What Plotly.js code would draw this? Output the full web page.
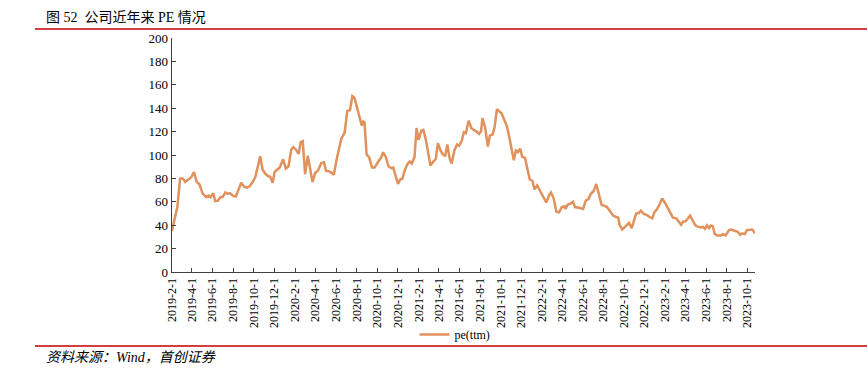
<!DOCTYPE html>
<html>
<head>
<meta charset="utf-8">
<script src="https://cdn.plot.ly/plotly-3.0.1.min.js"></script>
<style>html,body{margin:0;padding:0;background:#fff;}#chart{width:867px;height:375px;}</style>
</head>
<body>
<div id="chart"></div>
<script>
var seriesName = "pe(ttm)";
var dates = [
"2019-02-01","2019-02-17","2019-02-25","2019-03-05","2019-03-12","2019-03-20","2019-03-30","2019-04-07","2019-04-15","2019-04-23",
"2019-05-03","2019-05-13","2019-05-20","2019-05-26","2019-06-03","2019-06-09","2019-06-17","2019-06-25","2019-07-01","2019-07-09",
"2019-07-15","2019-07-23","2019-08-01","2019-08-09","2019-08-17","2019-08-25","2019-09-02","2019-09-10","2019-09-18","2019-09-28",
"2019-10-06","2019-10-13","2019-10-20","2019-10-27","2019-11-04","2019-11-12","2019-11-19","2019-11-26","2019-12-02","2019-12-10",
"2019-12-17","2019-12-27","2020-01-04","2020-01-12","2020-01-20","2020-01-26","2020-02-03","2020-02-11","2020-02-17","2020-02-23",
"2020-03-01","2020-03-09","2020-03-17","2020-03-23","2020-03-31","2020-04-08","2020-04-18","2020-04-26","2020-05-02","2020-05-11",
"2020-05-19","2020-05-25","2020-06-02","2020-06-10","2020-06-16","2020-06-26","2020-07-04","2020-07-12","2020-07-19","2020-07-25",
"2020-08-02","2020-08-10","2020-08-16","2020-08-20","2020-08-24","2020-08-30","2020-09-07","2020-09-15","2020-09-23","2020-09-30",
"2020-10-08","2020-10-12","2020-10-18","2020-10-26","2020-11-03","2020-11-11","2020-11-17","2020-11-23","2020-12-01","2020-12-08",
"2020-12-14","2020-12-22","2020-12-30","2021-01-05","2021-01-11","2021-01-19","2021-01-25","2021-01-31","2021-02-08","2021-02-14",
"2021-02-21","2021-03-01","2021-03-07","2021-03-15","2021-03-23","2021-03-29","2021-04-06","2021-04-14","2021-04-20","2021-04-26",
"2021-05-03","2021-05-09","2021-05-17","2021-05-25","2021-05-31","2021-06-08","2021-06-14","2021-06-20","2021-06-28","2021-07-02",
"2021-07-06","2021-07-13","2021-07-21","2021-07-29","2021-08-04","2021-08-08","2021-08-16","2021-08-24","2021-08-30","2021-09-07",
"2021-09-13","2021-09-20","2021-09-28","2021-10-04","2021-10-12","2021-10-20","2021-10-28","2021-11-03","2021-11-09","2021-11-15",
"2021-11-21","2021-11-28","2021-12-04","2021-12-12","2021-12-20","2021-12-26","2022-01-03","2022-01-09","2022-01-17","2022-01-25",
"2022-02-01","2022-02-13","2022-02-21","2022-02-27","2022-03-07","2022-03-15","2022-03-23","2022-03-31","2022-04-08","2022-04-11",
"2022-04-17","2022-04-25","2022-05-03","2022-05-09","2022-05-21","2022-06-02","2022-06-10","2022-06-18","2022-06-25","2022-07-03",
"2022-07-11","2022-07-19","2022-07-27","2022-08-04","2022-08-12","2022-08-22","2022-08-30","2022-09-08","2022-09-14","2022-09-18",
"2022-09-26","2022-10-04","2022-10-16","2022-10-24","2022-10-30","2022-11-06","2022-11-14","2022-11-20","2022-11-28","2022-12-08",
"2022-12-16","2022-12-24","2022-12-30","2023-01-07","2023-01-14","2023-01-22","2023-01-30","2023-02-07","2023-02-15","2023-02-23",
"2023-03-05","2023-03-13","2023-03-19","2023-03-25","2023-04-01","2023-04-09","2023-04-15","2023-04-23","2023-05-01","2023-05-09",
"2023-05-17","2023-05-23","2023-05-29","2023-06-04","2023-06-10","2023-06-15","2023-06-21","2023-06-27","2023-07-05","2023-07-15",
"2023-07-21","2023-07-29","2023-08-08","2023-08-16","2023-08-23","2023-09-02","2023-09-10","2023-09-16","2023-09-24","2023-09-30",
"2023-10-08","2023-10-16","2023-10-24"
];
var peValues = [
35,56,80,80,77,79,81,85.3,77,75,
67,64,65.4,64,67.3,60.6,61,64,64,68,
67,67.3,65,64.5,70.7,76.3,73,72,73,77,
81.4,91.3,98.9,87.6,84,82,81.4,76.3,85.6,87.6,
89.3,96.3,88.5,90.4,104.5,106.8,104.5,101,111,111.8,
83.7,99.4,87.6,77,84.8,86.5,93.2,93.8,86.5,86,
84.8,83.1,95.5,106.8,113.8,119.2,137.7,138.3,150.4,149,
141.1,132.7,125.1,128.7,127.9,100.6,97.7,89.3,89.3,92.7,
96,97.7,102.3,98.3,90.4,88.7,89.3,82.8,75.2,79.2,
79.7,87.6,92.7,94.4,92.7,98.3,123.1,113,120.8,121.4,
113.8,101.1,91,94.1,96.6,110.1,103.9,100,99.4,109,
97.2,92.7,103.9,109,107.9,112.4,119.4,118.6,129.3,126.5,
123.1,121.4,120.3,118,120.3,131.5,123.7,107.3,116.6,117.5,
123.7,139.2,136.9,135.5,129.9,124.2,113,103.9,95.5,103.9,
102.5,105.4,98.3,97.7,87.6,79.2,78,70.7,74.1,69.6,
65.6,59.4,65.6,67.9,62.8,51.5,51,55.5,56.1,53.8,
57.5,58.3,60,55.5,54.9,53.8,61.1,62.3,66.8,69,
75.2,67.3,57.2,56.6,55.5,51.5,48.2,47,46.5,40.3,
36.3,38.6,42,37.5,43.4,49.9,50.4,52.4,49.9,48.7,
47,45.9,51,53.8,57.5,62.8,59.4,55.5,50.4,46.5,
45.9,43.1,40.3,43.1,43.1,45.9,48.2,43.7,39.7,38.6,
38,38.6,36.9,39.7,37.5,39.7,39.2,32.4,31.3,31.3,
32.4,31.3,35.8,36.3,35.2,34.6,31.8,33,32.4,35.8,
36.3,36.3,33
];
var tickDates = [
"2019-02-01","2019-04-01","2019-06-01","2019-08-01","2019-10-01","2019-12-01",
"2020-02-01","2020-04-01","2020-06-01","2020-08-01","2020-10-01","2020-12-01",
"2021-02-01","2021-04-01","2021-06-01","2021-08-01","2021-10-01","2021-12-01",
"2022-02-01","2022-04-01","2022-06-01","2022-08-01","2022-10-01","2022-12-01",
"2023-02-01","2023-04-01","2023-06-01","2023-08-01","2023-10-01"
];
var tickLabels = [
"2019-2-1","2019-4-1","2019-6-1","2019-8-1","2019-10-1","2019-12-1",
"2020-2-1","2020-4-1","2020-6-1","2020-8-1","2020-10-1","2020-12-1",
"2021-2-1","2021-4-1","2021-6-1","2021-8-1","2021-10-1","2021-12-1",
"2022-2-1","2022-4-1","2022-6-1","2022-8-1","2022-10-1","2022-12-1",
"2023-2-1","2023-4-1","2023-6-1","2023-8-1","2023-10-1"
];
var titleText = "图 52&nbsp; 公司近年来 PE 情况";
var sourceText = "资料来源：Wind，首创证券";

var serif = "'Liberation Serif', 'Times New Roman', 'Noto Sans CJK SC', serif";
var L = 172, R = 112, T = 38, B = 103;
var pw = 867 - L - R, ph = 375 - T - B;
function px2x(p){ return (p - L) / pw; }
function py2y(p){ return (375 - B - p) / ph; }

var trace = {
  x: dates, y: peValues, type: "scatter", mode: "lines", name: seriesName,
  line: {color: "#E0915C", width: 2.5}
};
var layout = {
  width: 867, height: 375,
  margin: {l: L, r: R, t: T, b: B},
  paper_bgcolor: "#fff", plot_bgcolor: "#fff",
  showlegend: true,
  legend: {orientation: "h", x: px2x(455), xanchor: "center", y: py2y(320), yanchor: "top",
           font: {family: serif, size: 12, color: "#000"}, bgcolor: "rgba(0,0,0,0)", itemwidth: 30},
  xaxis: {
    type: "date", range: ["2019-02-01", "2023-10-24"],
    tickvals: tickDates, ticktext: tickLabels, tickangle: -90,
    ticks: "inside", ticklen: 4, tickcolor: "#404040", tickwidth: 1,
    showline: true, linecolor: "#404040", linewidth: 1.3,
    showgrid: false, zeroline: false,
    tickfont: {family: serif, size: 12, color: "#000"}
  },
  yaxis: {
    range: [0, 200], dtick: 20, tick0: 0,
    ticks: "inside", ticklen: 4, tickcolor: "#404040", tickwidth: 1,
    showline: true, linecolor: "#404040", linewidth: 1.3,
    showgrid: false, zeroline: false,
    tickfont: {family: serif, size: 13, color: "#000"}
  },
  shapes: [
    {type: "line", xref: "paper", yref: "paper", x0: px2x(35), x1: px2x(867), y0: py2y(29), y1: py2y(29),
     line: {color: "#C00000", width: 1.5}},
    {type: "line", xref: "paper", yref: "paper", x0: px2x(35), x1: px2x(867), y0: py2y(346), y1: py2y(346),
     line: {color: "#C00000", width: 1.5}}
  ],
  annotations: [
    {text: titleText, xref: "paper", yref: "paper", x: px2x(44), y: py2y(27), xanchor: "left", yanchor: "bottom",
     showarrow: false, font: {family: serif, size: 14, color: "#000"}},
    {text: "<i>" + sourceText + "</i>", xref: "paper", yref: "paper", x: px2x(44), y: py2y(357), xanchor: "left", yanchor: "middle",
     showarrow: false, font: {family: serif, size: 14, color: "#000"}}
  ]
};
Plotly.newPlot("chart", [trace], layout, {displayModeBar: false, staticPlot: true});
</script>
</body>
</html>
